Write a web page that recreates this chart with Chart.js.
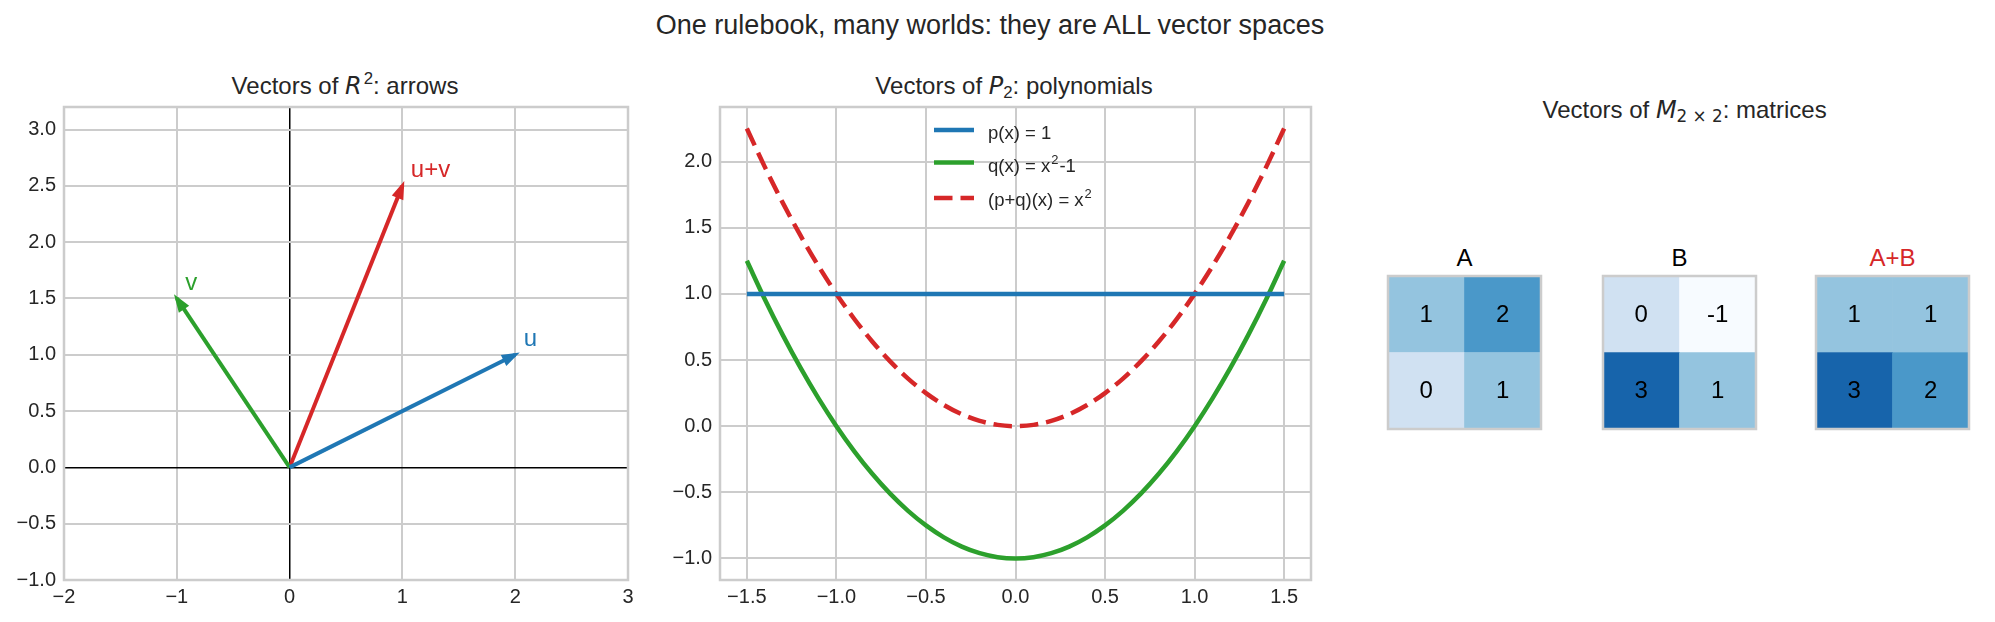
<!DOCTYPE html>
<html><head><meta charset="utf-8">
<script src="https://cdn.jsdelivr.net/npm/chart.js@4.4.1/dist/chart.umd.min.js"></script>
<style>
html,body{margin:0;padding:0;background:#fff;}
body{width:1995px;height:622px;position:relative;overflow:hidden;font-family:'Liberation Sans',Arial,sans-serif;color:#262626;}
canvas{position:absolute;}
.t{position:absolute;white-space:nowrap;line-height:1;transform:translateX(-50%);}
.m{font-family:'DejaVu Sans';font-style:italic;}
.sup{font-size:0.7em;position:relative;top:-0.55em;margin-left:2px;}
.sub{font-size:0.7em;position:relative;top:0.25em;}
.subm{font-size:0.7em;position:relative;top:0.25em;font-family:'DejaVu Sans';}
</style></head><body>
<div class="t" style="left:990px;top:12px;font-size:27px">One rulebook, many worlds: they are ALL vector spaces</div>
<div class="t" style="left:345px;top:73.7px;font-size:24px">Vectors of <span class="m">R</span><span class="sup">2</span>: arrows</div>
<div class="t" style="left:1014px;top:74.2px;font-size:24px">Vectors of <span class="m">P</span><span class="sub">2</span>: polynomials</div>
<div class="t" style="left:1684.6px;top:97.7px;font-size:24px">Vectors of <span class="m">M</span><span class="subm">2 × 2</span>: matrices</div>
<div class="t" style="left:1464.5px;top:245.7px;font-size:24px;color:#000">A</div>
<div class="t" style="left:1679.5px;top:245.7px;font-size:24px;color:#000">B</div>
<div class="t" style="left:1892.5px;top:245.7px;font-size:24px;color:#d62728">A+B</div>
<canvas id="c1" width="660" height="535" style="left:0px;top:87px"></canvas>
<canvas id="c2" width="680" height="535" style="left:660px;top:87px"></canvas>
<canvas id="cA" width="173" height="173" style="left:1378px;top:266px"></canvas>
<canvas id="cB" width="173" height="173" style="left:1593px;top:266px"></canvas>
<canvas id="cS" width="173" height="173" style="left:1806px;top:266px"></canvas>
<script>
// ---------- data ----------
const vectorNames = ['u', 'v', 'u+v'];
const vectorX = [2, -1, 1];
const vectorY = [1, 1.5, 2.5];
const r2XTicks = [-2, -1, 0, 1, 2, 3];
const r2YTicks = [-1, -0.5, 0, 0.5, 1, 1.5, 2, 2.5, 3];

const polyX = [-1.5,-1.4,-1.3,-1.2,-1.1,-1.0,-0.9,-0.8,-0.7,-0.6,-0.5,-0.4,-0.3,-0.2,-0.1,0,
               0.1,0.2,0.3,0.4,0.5,0.6,0.7,0.8,0.9,1.0,1.1,1.2,1.3,1.4,1.5];
const pValues = [1,1,1,1,1,1,1,1,1,1,1,1,1,1,1,1,1,1,1,1,1,1,1,1,1,1,1,1,1,1,1];
const qValues = [1.25,0.96,0.69,0.44,0.21,0,-0.19,-0.36,-0.51,-0.64,-0.75,-0.84,-0.91,-0.96,-0.99,-1,
                 -0.99,-0.96,-0.91,-0.84,-0.75,-0.64,-0.51,-0.36,-0.19,0,0.21,0.44,0.69,0.96,1.25];
const pqValues = [2.25,1.96,1.69,1.44,1.21,1,0.81,0.64,0.49,0.36,0.25,0.16,0.09,0.04,0.01,0,
                  0.01,0.04,0.09,0.16,0.25,0.36,0.49,0.64,0.81,1,1.21,1.44,1.69,1.96,2.25];
const polyLabels = ['p(x) = 1', 'q(x) = x²-1', '(p+q)(x) = x²'];
const p2XTicks = [-1.5, -1, -0.5, 0, 0.5, 1, 1.5];
const p2YTicks = [-1, -0.5, 0, 0.5, 1, 1.5, 2];

const matrixNames = ['A', 'B', 'A+B'];
const matrixA = [[1, 2], [0, 1]];
const matrixB = [[0, -1], [3, 1]];
const matrixSum = [[1, 1], [3, 2]];

// ---------- style ----------
Chart.defaults.font.family = "'Liberation Sans', Arial, sans-serif";
Chart.defaults.color = '#262626';
const C_BLUE = '#1f77b4', C_GREEN = '#2ca02c', C_RED = '#d62728';
const GRID = '#cccccc';
const fmt = (v, d) => (v < 0 ? '\u2212' : '') + Math.abs(v).toFixed(d);

const framePlugin = {
  id: 'frame',
  afterDraw(chart) {
    const a = chart.chartArea, ctx = chart.ctx;
    ctx.save();
    ctx.strokeStyle = GRID; ctx.lineWidth = 2.5;
    ctx.strokeRect(a.left, a.top, a.right - a.left, a.bottom - a.top);
    ctx.restore();
  }
};

function gridOpts() {
  return {
    color: c => (c.tick && c.tick.value === 0 && c.chart.canvas.id === 'c1') ? '#000000' : GRID,
    lineWidth: c => (c.tick && c.tick.value === 0 && c.chart.canvas.id === 'c1') ? 1.5 : 2,
    drawTicks: false
  };
}

// ---------- panel 1: arrows ----------
const vecColors = [C_BLUE, C_GREEN, C_RED];
const arrowPlugin = {
  id: 'arrows',
  afterDatasetsDraw(chart) {
    const ctx = chart.ctx;
    const xs = chart.scales.x, ys = chart.scales.y;
    chart.data.datasets.forEach((ds, i) => {
      const meta = chart.getDatasetMeta(i);
      const p0 = meta.data[0], p1 = meta.data[1];
      const ang = Math.atan2(p1.y - p0.y, p1.x - p0.x);
      const L = 14, W = 4.8, e = 2;
      const tx = p1.x + e * Math.cos(ang), ty = p1.y + e * Math.sin(ang);
      const bx = tx - L * Math.cos(ang), by = ty - L * Math.sin(ang);
      const nx = -Math.sin(ang), ny = Math.cos(ang);
      ctx.save();
      ctx.fillStyle = ds.borderColor; ctx.strokeStyle = ds.borderColor;
      ctx.lineWidth = 2; ctx.lineJoin = 'miter';
      ctx.beginPath();
      ctx.moveTo(tx, ty);
      ctx.lineTo(bx + W * nx, by + W * ny);
      ctx.lineTo(bx - W * nx, by - W * ny);
      ctx.closePath();
      ctx.fill(); ctx.stroke();
      // label
      ctx.font = "24px 'Liberation Sans', Arial, sans-serif";
      ctx.textBaseline = 'alphabetic'; ctx.textAlign = 'left';
      const lx = xs.getPixelForValue(vectorX[i] + 0.075);
      const ly = ys.getPixelForValue(vectorY[i] + 0.075);
      ctx.fillText(ds.label, lx, ly);
      ctx.restore();
    });
  }
};

new Chart(document.getElementById('c1'), {
  type: 'scatter',
  data: {
    datasets: vectorNames.map((n, i) => ({
      label: n,
      data: [{x: 0, y: 0}, {x: vectorX[i], y: vectorY[i]}],
      showLine: true,
      borderColor: vecColors[i],
      backgroundColor: vecColors[i],
      borderWidth: 4,
      borderCapStyle: 'butt',
      pointRadius: 0
    }))
  },
  options: {
    responsive: false, animation: false, events: [], devicePixelRatio: 1,
    layout: {padding: {top: 20, right: 32, left: 0, bottom: 0}},
    plugins: {legend: {display: false}, tooltip: {enabled: false}},
    scales: {
      x: {
        type: 'linear', min: -2, max: 3,
        afterBuildTicks: s => { s.ticks = r2XTicks.map(v => ({value: v})); },
        afterFit: s => { s.height = 42; },
        grid: gridOpts(), border: {display: false},
        ticks: {padding: 5, font: {size: 20}, color: '#262626', callback: v => fmt(v, 0)}
      },
      y: {
        type: 'linear', min: -1, max: 3.2,
        afterBuildTicks: s => { s.ticks = r2YTicks.map(v => ({value: v})); },
        afterFit: s => { s.width = 64; },
        grid: gridOpts(), border: {display: false},
        ticks: {padding: 8, font: {size: 20}, color: '#262626', callback: v => fmt(v, 1)}
      }
    }
  },
  plugins: [arrowPlugin, framePlugin]
});

// ---------- panel 2: polynomials ----------
function drawRich(ctx, text, x, y, size) {
  // draws text, rendering "²" as a raised smaller "2"
  const parts = text.split('²');
  let cx = x;
  parts.forEach((p, k) => {
    ctx.font = size + "px 'Liberation Sans', Arial, sans-serif";
    ctx.fillText(p, cx, y);
    cx += ctx.measureText(p).width;
    if (k < parts.length - 1) {
      const s = size * 0.7;
      ctx.font = s + "px 'Liberation Sans', Arial, sans-serif";
      cx += 1;
      ctx.fillText('2', cx, y - size * 0.42);
      cx += ctx.measureText('2').width + 1;
    }
  });
}

const legendPlugin = {
  id: 'polyLegend',
  afterDraw(chart) {
    const ctx = chart.ctx, a = chart.chartArea;
    const cx = (a.left + a.right) / 2;
    const handleY = [23, 55.5, 91];
    const baseY = [32, 64.7, 99];
    ctx.save();
    chart.data.datasets.forEach((ds, i) => {
      ctx.strokeStyle = ds.borderColor;
      ctx.lineWidth = ds.borderWidth;
      ctx.lineCap = 'butt';
      ctx.setLineDash(ds.borderDash || []);
      ctx.beginPath();
      ctx.moveTo(cx - 81.5, a.top + handleY[i]);
      ctx.lineTo(cx - 41.5, a.top + handleY[i]);
      ctx.stroke();
      ctx.setLineDash([]);
      ctx.fillStyle = '#262626';
      ctx.textBaseline = 'alphabetic'; ctx.textAlign = 'left';
      drawRich(ctx, ds.label, cx - 27.5, a.top + baseY[i], 18.5);
    });
    ctx.restore();
  }
};

const polySeries = [pValues, qValues, pqValues];
const polyColors = [C_BLUE, C_GREEN, C_RED];
const polyDash = [[], [], [18.5, 8]];
new Chart(document.getElementById('c2'), {
  type: 'line',
  data: {
    datasets: polySeries.map((vals, i) => ({
      label: polyLabels[i],
      data: polyX.map((x, k) => ({x: x, y: vals[k]})),
      borderColor: polyColors[i],
      borderWidth: 4.5,
      borderDash: polyDash[i],
      borderCapStyle: 'butt',
      cubicInterpolationMode: 'monotone',
      pointRadius: 0,
      fill: false
    }))
  },
  options: {
    responsive: false, animation: false, events: [], devicePixelRatio: 1,
    layout: {padding: {top: 20, right: 29, left: 0, bottom: 0}},
    plugins: {legend: {display: false}, tooltip: {enabled: false}},
    scales: {
      x: {
        type: 'linear', min: -1.65, max: 1.65,
        afterBuildTicks: s => { s.ticks = p2XTicks.map(v => ({value: v})); },
        afterFit: s => { s.height = 42; },
        grid: gridOpts(), border: {display: false},
        ticks: {padding: 5, font: {size: 20}, color: '#262626', callback: v => fmt(v, 1)}
      },
      y: {
        type: 'linear', min: -1.1625, max: 2.4125,
        afterBuildTicks: s => { s.ticks = p2YTicks.map(v => ({value: v})); },
        afterFit: s => { s.width = 60; },
        grid: gridOpts(), border: {display: false},
        ticks: {padding: 8, font: {size: 20}, color: '#262626', callback: v => fmt(v, 1)}
      }
    }
  },
  plugins: [legendPlugin, framePlugin]
});

// ---------- panel 3: matrices ----------
const BLUES = [[247,251,255],[222,235,247],[198,219,239],[158,202,225],[107,174,214],
               [66,146,198],[33,113,181],[8,81,156],[8,48,107]];
function blues(v) {
  const t = Math.min(1, Math.max(0, (v - (-1)) / (4 - (-1))));
  const f = t * (BLUES.length - 1);
  const i = Math.min(BLUES.length - 2, Math.floor(f));
  const r = f - i;
  const c = BLUES[i].map((a, k) => Math.round(a + (BLUES[i + 1][k] - a) * r));
  return 'rgb(' + c.join(',') + ')';
}

const cellTextPlugin = {
  id: 'cellText',
  afterDatasetsDraw(chart) {
    const ctx = chart.ctx;
    const M = chart.options.plugins.cellText.matrix;
    ctx.save();
    ctx.fillStyle = '#000';
    ctx.font = "24px 'Liberation Sans', Arial, sans-serif";
    ctx.textAlign = 'center'; ctx.textBaseline = 'middle';
    chart.data.datasets.forEach((ds, d) => {
      const row = ds.row;
      chart.getDatasetMeta(d).data.forEach((el, c) => {
        ctx.fillText(String(M[row][c]), el.x, (el.y + el.base) / 2 + 1);
      });
    });
    ctx.restore();
  }
};

function matrixChart(id, M) {
  // stacked bars: bottom row first, then top row; every cell has unit height
  const rows = [1, 0];
  new Chart(document.getElementById(id), {
    type: 'bar',
    data: {
      labels: ['c0', 'c1'],
      datasets: rows.map(r => ({
        row: r,
        data: M[r].map(() => 1),
        backgroundColor: M[r].map(v => blues(v)),
        borderWidth: 0,
        barPercentage: 1,
        categoryPercentage: 1
      }))
    },
    options: {
      responsive: false, animation: false, events: [], devicePixelRatio: 1,
      layout: {padding: 10},
      plugins: {legend: {display: false}, tooltip: {enabled: false}, cellText: {matrix: M}},
      scales: {
        x: {display: false, stacked: true},
        y: {display: false, stacked: true, min: 0, max: 2}
      }
    },
    plugins: [cellTextPlugin, framePlugin]
  });
}
matrixChart('cA', matrixA);
matrixChart('cB', matrixB);
matrixChart('cS', matrixSum);
</script>
</body></html>
